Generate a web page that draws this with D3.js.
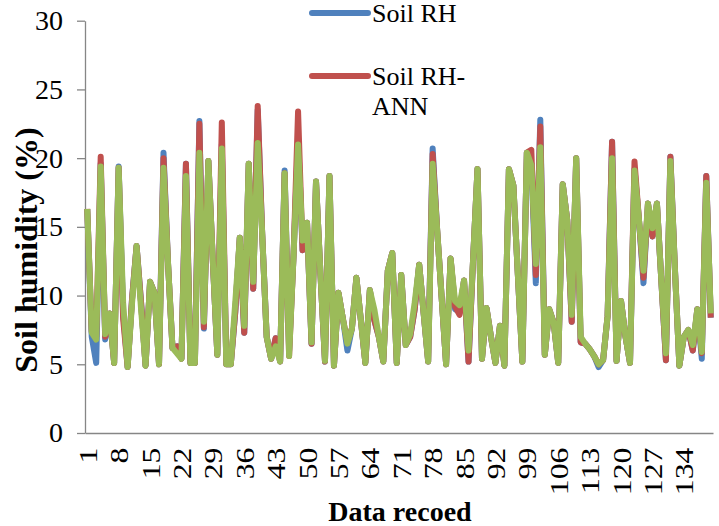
<!DOCTYPE html>
<html>
<head>
<meta charset="utf-8">
<style>
  body { margin: 0; background: #fff; }
  svg text { font-family: "Times New Roman", "Liberation Serif", Times, "DejaVu Serif", serif; }
</style>
</head>
<body>
<script src="https://cdn.jsdelivr.net/npm/d3@7"></script>
<svg id="chart" width="719" height="526"></svg>
<script>
  // measured soil humidity (blue)
  const soilRH = [
    16.3, 7.0, 5.1, 19.6, 6.8, 8.7, 5.1, 19.4, 8.8, 4.8,
    9.8, 13.6, 9.5, 4.9, 11.0, 10.2, 5.0, 20.4, 12.4, 6.2,
    6.3, 5.4, 19.6, 5.1, 5.1, 22.7, 7.6, 19.8, 12.5, 5.7,
    21.0, 5.0, 5.0, 8.8, 14.2, 7.3, 19.6, 10.5, 23.5, 14.5,
    7.0, 5.4, 6.9, 5.2, 19.1, 6.0, 13.0, 21.5, 13.3, 15.3,
    6.5, 18.3, 11.5, 5.2, 18.7, 4.9, 10.2, 8.3, 6.0, 7.6,
    11.3, 8.2, 5.1, 10.4, 8.2, 7.0, 5.2, 11.8, 13.1, 5.1,
    11.5, 6.4, 7.0, 9.0, 12.25, 8.7, 5.2, 20.7, 14.8, 9.9,
    5.0, 12.7, 9.0, 8.8, 11.1, 5.2, 12.5, 19.2, 5.4, 9.1,
    7.0, 5.1, 7.8, 4.9, 19.2, 18.0, 11.5, 5.2, 20.4, 19.6,
    10.9, 22.8, 5.7, 9.0, 8.0, 5.1, 18.1, 15.5, 8.1, 20.0,
    6.6, 6.5, 6.1, 5.6, 4.8, 5.3, 8.5, 21.2, 5.25, 9.6,
    7.0, 5.1, 19.2, 15.5, 10.9, 16.7, 14.3, 16.7, 11.0, 5.3,
    20.1, 12.0, 4.9, 7.0, 7.5, 6.0, 9.0, 5.4, 18.7, 8.4
  ];
  // ANN estimate (red)
  const soilRHANN = [
    16.3, 7.4, 7.0, 20.1, 7.0, 8.7, 5.1, 19.3, 8.3, 4.8,
    9.8, 13.6, 9.5, 4.9, 11.0, 10.2, 5.0, 20.0, 12.4, 6.2,
    6.3, 5.4, 19.6, 5.1, 5.1, 22.5, 7.7, 19.8, 12.5, 5.7,
    22.6, 5.0, 5.0, 8.8, 14.2, 7.3, 19.6, 10.5, 23.8, 14.5,
    7.0, 5.4, 6.9, 5.2, 18.9, 5.6, 13.0, 23.4, 13.3, 15.3,
    6.5, 18.3, 11.5, 5.2, 18.7, 4.9, 10.2, 8.3, 6.6, 7.6,
    11.3, 8.2, 5.1, 10.4, 8.2, 7.0, 5.2, 11.8, 13.1, 5.1,
    11.5, 6.4, 7.0, 9.0, 12.25, 8.7, 5.2, 20.3, 14.8, 9.9,
    5.0, 12.7, 9.2, 8.6, 11.1, 5.2, 12.5, 19.2, 5.4, 9.1,
    7.0, 5.1, 7.8, 4.9, 19.2, 18.0, 11.5, 5.2, 20.4, 20.6,
    11.5, 22.3, 5.7, 9.0, 8.0, 5.1, 18.1, 15.5, 8.1, 20.0,
    6.6, 6.5, 6.1, 5.6, 5.0, 5.3, 8.5, 21.2, 5.25, 9.6,
    7.0, 5.1, 19.75, 15.5, 11.3, 16.7, 14.3, 16.7, 11.0, 5.3,
    20.1, 12.0, 4.9, 7.0, 7.5, 6.0, 9.0, 5.8, 18.7, 8.4
  ];
  // third series (green, drawn on top, no legend entry visible)
  const soilRHModel = [
    16.3, 7.3, 6.8, 19.4, 7.2, 8.7, 5.1, 19.3, 9.5, 4.8,
    9.5, 13.6, 9.0, 4.9, 11.0, 10.2, 5.0, 19.3, 12.4, 6.2,
    5.8, 5.4, 18.7, 5.1, 5.1, 20.4, 8.1, 19.8, 12.5, 5.7,
    20.7, 5.0, 5.0, 9.5, 14.2, 7.8, 19.6, 11.0, 21.1, 14.5,
    7.0, 5.4, 6.3, 5.2, 18.9, 5.6, 13.0, 21.0, 14.0, 15.3,
    6.6, 18.3, 11.5, 5.25, 18.7, 4.9, 10.2, 8.3, 6.5, 7.6,
    11.3, 8.2, 5.1, 10.4, 9.0, 7.0, 5.2, 11.8, 13.1, 5.1,
    11.5, 6.4, 7.2, 9.5, 12.25, 8.7, 5.2, 19.6, 14.8, 9.9,
    5.0, 12.7, 9.6, 9.3, 11.1, 6.0, 12.5, 19.2, 5.4, 9.1,
    7.0, 5.1, 7.8, 4.9, 19.2, 18.0, 11.5, 5.2, 20.4, 19.5,
    12.3, 20.8, 5.7, 9.0, 8.0, 5.1, 18.1, 15.5, 8.6, 20.0,
    7.0, 6.5, 6.1, 5.6, 5.0, 5.3, 8.5, 20.0, 5.25, 9.6,
    7.0, 5.1, 19.1, 15.5, 11.8, 16.7, 14.9, 16.7, 11.0, 5.8,
    19.8, 12.0, 4.9, 7.0, 7.5, 6.4, 9.0, 5.9, 18.2, 8.7
  ];
  const records = d3.range(1, soilRH.length + 1);
  const xTickLabels = [1, 8, 15, 22, 29, 36, 43, 50, 57, 64, 71, 78, 85, 92, 99, 106, 113, 120, 127, 134];
  const yTickLabels = [0, 5, 10, 15, 20, 25, 30];
  const legendNames = ['Soil RH', 'Soil RH-ANN'];

  const svg = d3.select('#chart');
  const plot = {left: 85, right: 713, top: 20.7, bottom: 433};
  const axisColor = '#868686';
  const serif = '"Times New Roman", "Liberation Serif", Times, serif';

  const xScale = d3.scalePoint()
                   .domain(records)
                   .range([plot.left, plot.right])
                   .padding(0.5);
  const yScale = d3.scaleLinear()
                   .domain([0, 30])
                   .range([plot.bottom, plot.top]);

  // y axis
  const yAxis = d3.axisLeft(yScale)
                  .tickValues(yTickLabels)
                  .tickSize(8)
                  .tickSizeOuter(0)
                  .tickPadding(14);
  const gy = svg.append('g')
                .attr('transform', `translate(${plot.left}, 0)`)
                .call(yAxis)
                .attr('font-family', serif);
  gy.select('.domain').attr('stroke', axisColor).attr('stroke-width', 1.3);
  gy.selectAll('.tick line').attr('stroke', axisColor).attr('stroke-width', 1.3);
  gy.selectAll('.tick text')
    .attr('font-size', '28px')
    .attr('fill', '#000');

  // x axis (category labels every 7th record, rotated, a bit stretched like the source)
  const xAxis = d3.axisBottom(xScale)
                  .tickValues(xTickLabels)
                  .tickSize(0)
                  .tickSizeOuter(0);
  const gx = svg.append('g')
                .attr('transform', `translate(0, ${plot.bottom})`)
                .call(xAxis)
                .attr('font-family', serif);
  gx.select('.domain').attr('stroke', axisColor).attr('stroke-width', 1.3);
  gx.selectAll('.tick text')
    .attr('transform', 'rotate(-90) scale(1.22, 1)')
    .attr('text-anchor', 'end')
    .attr('x', -12)
    .attr('y', 0)
    .attr('dy', '0.35em')
    .attr('font-size', '26px')
    .attr('fill', '#000');

  // series lines
  const line = d3.line()
                 .x((d, i) => xScale(records[i]))
                 .y(d => yScale(d));
  const series = [
    {values: soilRH, color: '#4F81BD'},
    {values: soilRHANN, color: '#C0504D'},
    {values: soilRHModel, color: '#9BBB59'}
  ];
  svg.append('g')
     .selectAll('path')
     .data(series)
     .enter()
     .append('path')
     .attr('d', d => line(d.values))
     .attr('fill', 'none')
     .attr('stroke', d => d.color)
     .attr('stroke-width', 6)
     .attr('stroke-linejoin', 'round');

  // legend
  const legend = svg.append('g').attr('font-family', serif);
  legend.append('line')
        .attr('x1', 312).attr('x2', 368).attr('y1', 13).attr('y2', 13)
        .attr('stroke', '#4F81BD').attr('stroke-width', 6).attr('stroke-linecap', 'round');
  legend.append('text')
        .attr('x', 372).attr('y', 22)
        .attr('font-size', '26px')
        .text(legendNames[0]);
  legend.append('line')
        .attr('x1', 312).attr('x2', 368).attr('y1', 76).attr('y2', 76)
        .attr('stroke', '#C0504D').attr('stroke-width', 6).attr('stroke-linecap', 'round');
  const annText = legend.append('text')
        .attr('x', 372).attr('y', 85)
        .attr('font-size', '26px');
  annText.append('tspan').attr('x', 372).text('Soil RH-');
  annText.append('tspan').attr('x', 372).attr('dy', 30).text('ANN');

  // axis titles
  svg.append('text')
     .text('Soil humidity (%)')
     .attr('transform', 'translate(37, 250) rotate(-90)')
     .attr('text-anchor', 'middle')
     .attr('font-family', serif)
     .attr('font-size', '32px')
     .attr('font-weight', 'bold');
  svg.append('text')
     .text('Data recoed')
     .attr('x', 400)
     .attr('y', 521)
     .attr('text-anchor', 'middle')
     .attr('font-family', serif)
     .attr('font-size', '28px')
     .attr('font-weight', 'bold');
</script>
</body>
</html>
